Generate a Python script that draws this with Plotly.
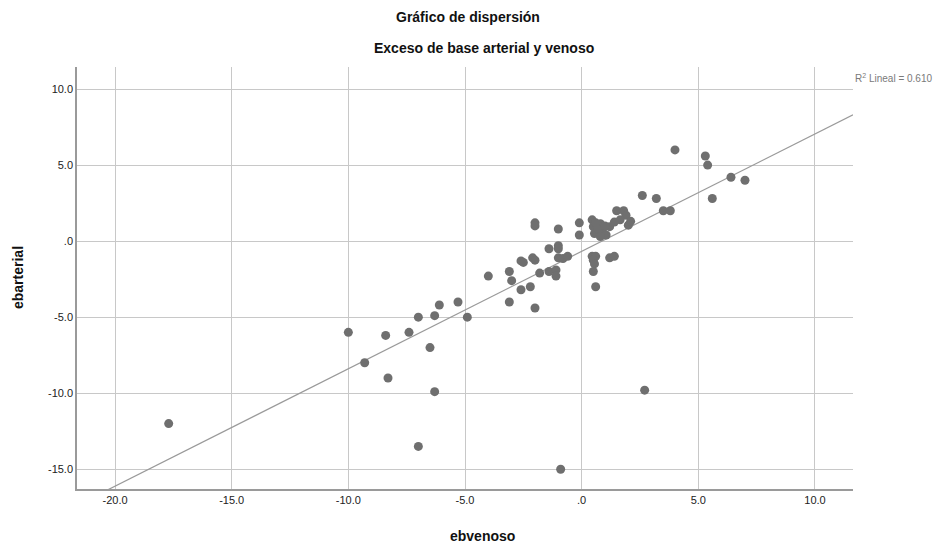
import numpy as np
import plotly.graph_objects as go

ebvenoso = [-17.7, -10.0, -9.3, -8.4, -8.3, -7.4, -7.0, -7.0, -6.5, -6.3, -6.3, -6.1, -5.3, -4.9,
            -4.0, -3.1, -3.0, -3.1, -2.6, -2.5, -2.6, -2.2, -2.0, -1.8, -2.1, -2.0, -1.4, -1.1,
            -1.1, -1.4, -1.0, -1.0, -1.0, -0.8, -0.6, -2.0, -2.0, -1.0, -0.1, -0.1, -0.9,
            0.45, 0.6, 0.5, 0.55, 0.5, 0.6, 1.2, 1.4, 2.7,
            0.45, 0.5, 0.55, 0.8, 0.9, 1.05, 1.2, 1.4, 1.5, 1.8, 1.9, 2.0, 1.65, 0.7, 1.0, 0.6,
            0.8, 2.1, 2.6, 3.2, 3.5, 3.8, 4.0, 5.3, 5.4, 5.6, 6.4, 7.0]
ebarterial = [-12.0, -6.0, -8.0, -6.2, -9.0, -6.0, -5.0, -13.5, -7.0, -4.9, -9.9, -4.2, -4.0, -5.0,
              -2.3, -2.0, -2.6, -4.0, -1.3, -1.4, -3.2, -3.0, -4.4, -2.1, -1.1, -1.25, -2.0, -1.9,
              -2.3, -0.5, -0.3, -0.5, -1.1, -1.15, -1.0, 1.2, 1.0, 0.8, 1.2, 0.4, -15.0,
              -1.0, -1.0, -1.25, -1.5, -2.0, -3.0, -1.1, -1.0, -9.8,
              1.4, 0.95, 0.5, 1.15, 0.6, 0.4, 0.95, 1.25, 2.0, 2.0, 1.7, 1.05, 1.4, 0.8, 1.0, 1.2,
              0.3, 1.3, 3.0, 2.8, 2.0, 2.0, 6.0, 5.6, 5.0, 2.8, 4.2, 4.0]

x_tickvals = [-20, -15, -10, -5, 0, 5, 10]
x_ticktext = ["-20.0", "-15.0", "-10.0", "-5.0", ".0", "5.0", "10.0"]
y_tickvals = [10, 5, 0, -5, -10, -15]
y_ticktext = ["10.0", "5.0", ".0", "-5.0", "-10.0", "-15.0"]
x_range = [-21.63, 11.63]
y_range = [-16.3, 11.45]
r2_label = "R<sup>2</sup> Lineal = 0.610"

slope, intercept = np.polyfit(ebvenoso, ebarterial, 1)
line_x = np.array(x_range)
line_y = slope * line_x + intercept

FONT = "Liberation Sans, Arial, sans-serif"
L, R, T, B = 77, 853, 67, 489
PW, PH = R - L, B - T

fig = go.Figure()
fig.add_trace(go.Scatter(x=line_x, y=line_y, mode="lines",
                         line=dict(color="#9a9a9a", width=1.2), hoverinfo="skip", showlegend=False))
fig.add_trace(go.Scatter(x=ebvenoso, y=ebarterial, mode="markers",
                         marker=dict(color="#6f6f6f", size=9), showlegend=False))

fig.update_layout(
    width=950, height=546,
    margin=dict(l=L, r=950 - R, t=T, b=546 - B, autoexpand=False),
    paper_bgcolor="white", plot_bgcolor="white",
    font=dict(family=FONT, color="#222222", size=11),
    xaxis=dict(range=x_range, tickvals=x_tickvals, ticktext=x_ticktext, automargin=False,
               showgrid=True, gridcolor="#c8c8c8", gridwidth=1, zeroline=False,
               showline=True, linecolor="#9a9a9a", linewidth=1.5, ticks="",
               tickfont=dict(size=11, color="#222222")),
    yaxis=dict(range=y_range, tickvals=y_tickvals, ticktext=y_ticktext, automargin=False,
               showgrid=True, gridcolor="#c8c8c8", gridwidth=1, zeroline=False,
               showline=True, linecolor="#9a9a9a", linewidth=1.5, ticks="",
               tickfont=dict(size=11, color="#222222")),
)


def px_x(px):
    return (px - L) / PW


def px_y(py):
    return (B - py) / PH


fig.add_annotation(text="<b>Gráfico de dispersión</b>", xref="paper", yref="paper",
                   x=px_x(468), y=px_y(17), showarrow=False,
                   xanchor="center", yanchor="middle", font=dict(size=14, color="#111111"))
fig.add_annotation(text="<b>Exceso de base arterial y venoso</b>", xref="paper", yref="paper",
                   x=px_x(484), y=px_y(48), showarrow=False,
                   xanchor="center", yanchor="middle", font=dict(size=14, color="#111111"))
fig.add_annotation(text="<b>ebvenoso</b>", xref="paper", yref="paper",
                   x=px_x(482), y=px_y(536), showarrow=False,
                   xanchor="center", yanchor="middle", font=dict(size=14, color="#111111"))
fig.add_annotation(text="<b>ebarterial</b>", xref="paper", yref="paper", textangle=-90,
                   x=px_x(18), y=px_y(278), showarrow=False,
                   xanchor="center", yanchor="middle", font=dict(size=14, color="#111111"))
fig.add_annotation(text=r2_label, xref="paper", yref="paper",
                   x=px_x(853), y=px_y(78), showarrow=False,
                   xanchor="left", yanchor="middle", font=dict(size=10, color="#7a7a7a"))

fig.write_html("out.html", config={"displayModeBar": False},
               post_script="document.body.style.margin='0';document.body.style.overflow='hidden';")
